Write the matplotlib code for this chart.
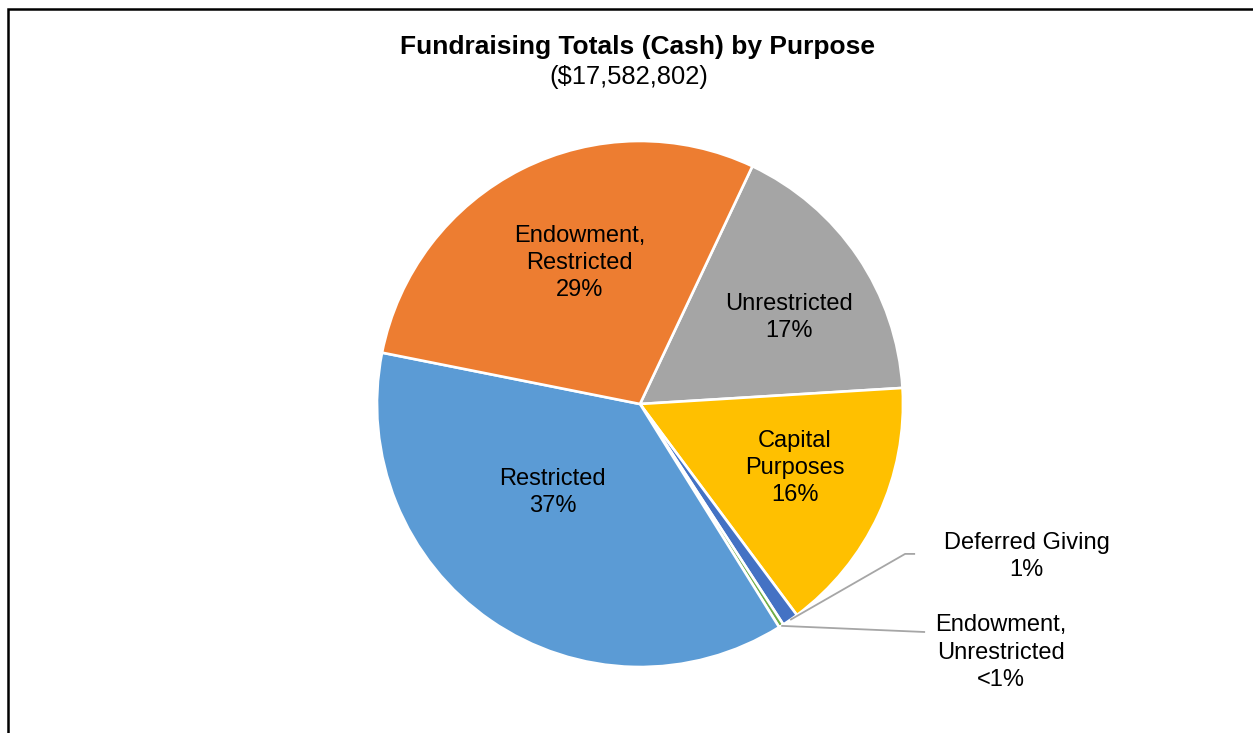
import numpy as np
import matplotlib.pyplot as plt
from matplotlib.patches import Rectangle

plt.rcParams['font.family'] = ['Liberation Sans', 'DejaVu Sans']

# data
purposes = ['Unrestricted', 'Capital\nPurposes', 'Deferred Giving',
            'Endowment,\nUnrestricted', 'Restricted', 'Endowment,\nRestricted']
shares = [17.0, 15.8, 1.0, 0.3, 37.0, 28.9]
colors = ['#A5A5A5', '#FFC000', '#4472C4', '#70AD47', '#5B9BD5', '#ED7D31']
title = 'Fundraising Totals (Cash) by Purpose'
subtitle = '($17,582,802)'

# label placement: (distance from centre, angle shift in degrees) for inside labels,
# (elbow, end, label anchor) for the outside ones
inside_pos = {0: (0.655, -4.0), 1: (0.637, 2.6), 4: (0.473, -10.0), 5: (0.583, -3.6)}
outside_pos = {2: ((1.008, -0.570), (1.046, -0.570), (1.471, -0.574)),
               3: ((1.084, -0.867), (1.084, -0.867), (1.373, -0.939))}

W, H = 1253, 733
cx, cy, R = 640, 404, 263
fig = plt.figure(figsize=(W / 100, H / 100), dpi=100)
ax = fig.add_axes([0, 0, 1, 1])

wedges, _ = ax.pie(shares, colors=colors, startangle=64.7, counterclock=False,
                   radius=1.0, wedgeprops=dict(edgecolor='white', linewidth=1.9))

# pie() resets the limits, so set them afterwards
ax.set_xlim(-cx / R, (W - cx) / R)
ax.set_ylim(-(H - cy) / R, cy / R)
ax.set_aspect('equal')
ax.axis('off')

total = sum(shares)
for i, w in enumerate(wedges):
    pct = shares[i] / total * 100
    pct_txt = '<1%' if round(pct) < 1 else f'{round(pct):.0f}%'
    txt = f'{purposes[i]}\n{pct_txt}'
    mid = (w.theta1 + w.theta2) / 2
    if i in inside_pos:
        d, shift = inside_pos[i]
        a = np.deg2rad(mid + shift)
        ax.text(d * np.cos(a), d * np.sin(a), txt, ha='center', va='center',
                fontsize=17, linespacing=1.3, color='black')
    else:
        elbow, end, lab = outside_pos[i]
        a = np.deg2rad(mid)
        sx, sy = 1.0 * np.cos(a), 1.0 * np.sin(a)
        ax.plot([sx, elbow[0], end[0]], [sy, elbow[1], end[1]],
                color='#A6A6A6', lw=1.3, solid_capstyle='butt')
        ax.text(lab[0], lab[1] - 0.006, txt, ha='center', va='center',
                fontsize=17, linespacing=1.3, color='black')

fig.text(637.5 / W, 1 - 47 / H, title, ha='center', va='center',
         fontsize=19, fontweight='bold')
fig.text(629 / W, 1 - 77 / H, subtitle, ha='center', va='center',
         fontsize=18.4)

# chart frame (runs off the right and bottom edges)
fig.patches.append(Rectangle((8 / W, -0.05), 1.1, 1 - 9 / H + 0.05,
                             transform=fig.transFigure, fill=False,
                             edgecolor='black', linewidth=1.8))

fig.savefig('out.png', dpi=100)
